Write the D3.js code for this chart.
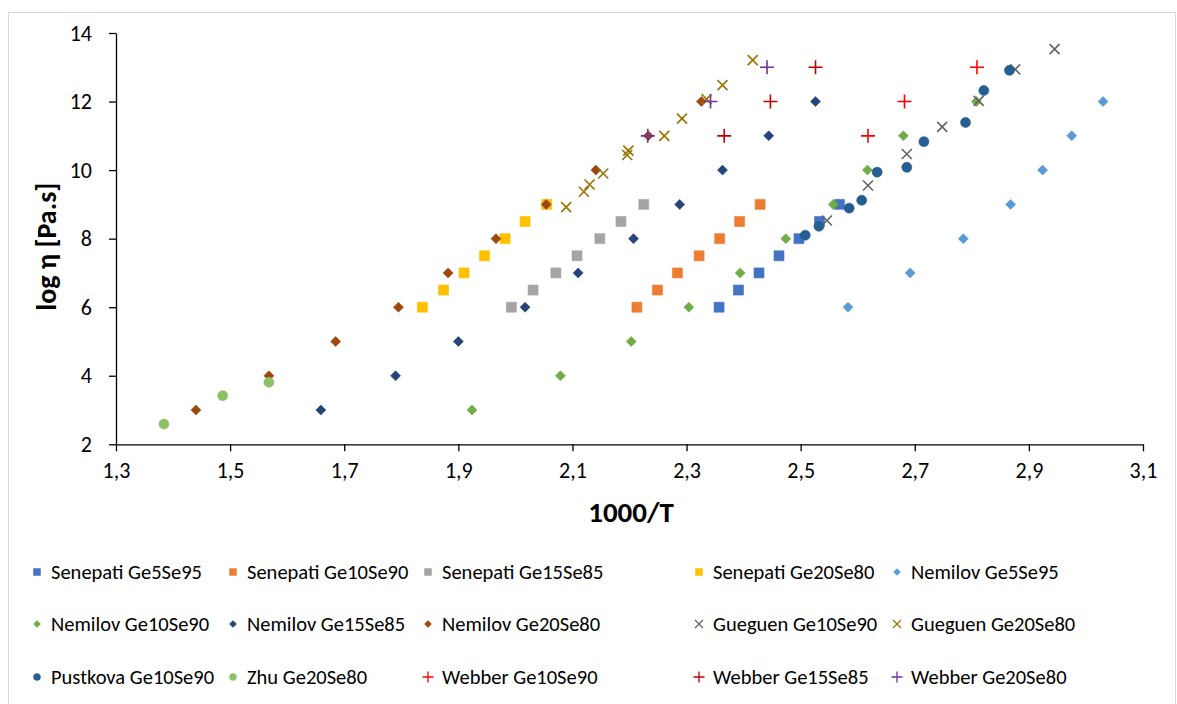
<!DOCTYPE html>
<html>
<head>
<meta charset="utf-8">
<script src="https://cdn.jsdelivr.net/npm/d3@7"></script>
<style>
  body { margin: 0; background: #fff; }
  svg { display: block; font-family: Carlito, Calibri, Lato, sans-serif; }
</style>
</head>
<body>
<svg id="chart" width="1177" height="704"></svg>
<script>
// log viscosity vs reciprocal temperature for Ge-Se melts, by source
const xTicks = [1.3, 1.5, 1.7, 1.9, 2.1, 2.3, 2.5, 2.7, 2.9, 3.1];
const yTicks = [2, 4, 6, 8, 10, 12, 14];

const senepatiGe5Se95X = [2.357, 2.391, 2.427, 2.462, 2.497, 2.533, 2.568];
const senepatiGe5Se95Y = [6, 6.5, 7, 7.5, 8, 8.5, 9];
const senepatiGe10Se90X = [2.213, 2.249, 2.284, 2.322, 2.358, 2.393, 2.429];
const senepatiGe10Se90Y = [6, 6.5, 7, 7.5, 8, 8.5, 9];
const senepatiGe15Se85X = [1.993, 2.031, 2.071, 2.108, 2.148, 2.185, 2.225];
const senepatiGe15Se85Y = [6, 6.5, 7, 7.5, 8, 8.5, 9];
const senepatiGe20Se80X = [1.837, 1.874, 1.910, 1.946, 1.982, 2.017, 2.055];
const senepatiGe20Se80Y = [6, 6.5, 7, 7.5, 8, 8.5, 9];

const nemilovGe5Se95X = [2.583, 2.692, 2.785, 2.868, 2.924, 2.975, 3.030];
const nemilovGe5Se95Y = [6, 7, 8, 9, 10, 11, 12];
const nemilovGe10Se90X = [1.924, 2.079, 2.203, 2.304, 2.394, 2.474, 2.557, 2.617, 2.680, 2.808];
const nemilovGe10Se90Y = [3, 4, 5, 6, 7, 8, 9, 10, 11, 12];
const nemilovGe15Se85X = [1.659, 1.790, 1.900, 2.017, 2.110, 2.207, 2.288, 2.363, 2.444, 2.526];
const nemilovGe15Se85Y = [3, 4, 5, 6, 7, 8, 9, 10, 11, 12];
const nemilovGe20Se80X = [1.440, 1.568, 1.685, 1.795, 1.882, 1.966, 2.054, 2.141, 2.233, 2.326];
const nemilovGe20Se80Y = [3, 4, 5, 6, 7, 8, 9, 10, 11, 12];

const gueguenGe10Se90X = [2.546, 2.618, 2.686, 2.748, 2.812, 2.876, 2.945];
const gueguenGe10Se90Y = [8.53, 9.55, 10.47, 11.26, 12.02, 12.94, 13.53];
const gueguenGe20Se80X = [2.089, 2.120, 2.130, 2.154, 2.196, 2.198, 2.261, 2.292, 2.335, 2.363, 2.416];
const gueguenGe20Se80Y = [8.92, 9.37, 9.58, 9.90, 10.44, 10.57, 11.0, 11.50, 12.07, 12.48, 13.21];

const pustkovaGe10Se90X = [2.508, 2.532, 2.585, 2.607, 2.634, 2.686, 2.716, 2.789, 2.821, 2.866];
const pustkovaGe10Se90Y = [8.10, 8.36, 8.89, 9.12, 9.94, 10.08, 10.83, 11.39, 12.32, 12.91];
const zhuGe20Se80X = [1.384, 1.487, 1.568];
const zhuGe20Se80Y = [2.59, 3.42, 3.81];

const webberGe10Se90X = [2.618, 2.682, 2.809];
const webberGe10Se90Y = [11, 12, 13];
const webberGe15Se85X = [2.366, 2.447, 2.526];
const webberGe15Se85Y = [11, 12, 13];
const webberGe20Se80X = [2.232, 2.342, 2.441];
const webberGe20Se80Y = [11, 12, 13];

const seriesNames = [
  "Senepati Ge5Se95", "Senepati Ge10Se90", "Senepati Ge15Se85", "Senepati Ge20Se80", "Nemilov Ge5Se95",
  "Nemilov Ge10Se90", "Nemilov Ge15Se85", "Nemilov Ge20Se80", "Gueguen Ge10Se90", "Gueguen Ge20Se80",
  "Pustkova Ge10Se90", "Zhu Ge20Se80", "Webber Ge10Se90", "Webber Ge15Se85", "Webber Ge20Se80"
];
const seriesX = [senepatiGe5Se95X, senepatiGe10Se90X, senepatiGe15Se85X, senepatiGe20Se80X, nemilovGe5Se95X,
  nemilovGe10Se90X, nemilovGe15Se85X, nemilovGe20Se80X, gueguenGe10Se90X, gueguenGe20Se80X,
  pustkovaGe10Se90X, zhuGe20Se80X, webberGe10Se90X, webberGe15Se85X, webberGe20Se80X];
const seriesY = [senepatiGe5Se95Y, senepatiGe10Se90Y, senepatiGe15Se85Y, senepatiGe20Se80Y, nemilovGe5Se95Y,
  nemilovGe10Se90Y, nemilovGe15Se85Y, nemilovGe20Se80Y, gueguenGe10Se90Y, gueguenGe20Se80Y,
  pustkovaGe10Se90Y, zhuGe20Se80Y, webberGe10Se90Y, webberGe15Se85Y, webberGe20Se80Y];
const seriesColors = ["#4472C4", "#ED7D31", "#A5A5A5", "#FFC000", "#5B9BD5",
  "#70AD47", "#264478", "#9E480E", "#636363", "#997300",
  "#255E91", "#8CC168", "#FF0000", "#C00000", "#7030A0"];
const seriesShapes = ["square", "square", "square", "square", "diamond",
  "diamond", "diamond", "diamond", "cross", "cross",
  "circle", "circle", "plus", "plus", "plus"];

const series = seriesNames.map((name, i) => ({
  name, color: seriesColors[i], shape: seriesShapes[i],
  points: seriesX[i].map((x, j) => ({ x, y: seriesY[i][j] }))
}));

const svg = d3.select("#chart");
const W = 1177, H = 704;
const plot = { left: 116, right: 1143, top: 33, bottom: 444.3 };
const FONT = "Carlito, Calibri, Lato, sans-serif";

// chart frame
svg.append("rect").attr("x", 8.5).attr("y", 12.5).attr("width", W - 10).attr("height", H)
  .attr("fill", "#fff").attr("stroke", "#D9D9D9").attr("stroke-width", 1);

const x = d3.scaleLinear().domain([1.3, 3.1]).range([plot.left, plot.right]);
const y = d3.scaleLinear().domain([2, 14]).range([plot.bottom, plot.top]);

const fmt = d => d3.format(".1f")(d).replace(".", ",");

const xAxis = svg.append("g").attr("transform", `translate(0,${plot.bottom})`)
  .call(d3.axisBottom(x).tickValues(xTicks).tickFormat(fmt).tickSize(7).tickSizeOuter(0).tickPadding(11));
const yAxis = svg.append("g").attr("transform", `translate(${plot.left},0)`)
  .call(d3.axisLeft(y).tickValues(yTicks).tickFormat(d3.format("d")).tickSize(7).tickSizeOuter(0).tickPadding(17));
[xAxis, yAxis].forEach(g => {
  g.attr("font-family", FONT).attr("font-size", 22);
  g.select(".domain").attr("stroke", "#000").attr("stroke-width", 1.3);
  g.selectAll(".tick line").attr("stroke", "#000").attr("stroke-width", 1.3);
  g.selectAll(".tick text").attr("fill", "#000");
});

// axis titles
svg.append("text").attr("x", 631).attr("y", 522)
  .attr("text-anchor", "middle").attr("font-family", FONT).attr("font-size", 29).attr("font-weight", "bold")
  .text("1000/T");
svg.append("text").attr("transform", `translate(56,${(plot.top + plot.bottom) / 2 + 8}) rotate(-90)`)
  .attr("text-anchor", "middle").attr("font-family", FONT).attr("font-size", 28).attr("font-weight", "bold")
  .text("log η [Pa.s]");

// marker path generator, size in px
function markerPath(shape, s) {
  const h = s / 2;
  switch (shape) {
    case "square": return `M${-h},${-h}H${h}V${h}H${-h}Z`;
    case "diamond": return `M0,${-h}L${h},0L0,${h}L${-h},0Z`;
    case "circle": return `M${h},0A${h},${h} 0 1,1 ${-h},0A${h},${h} 0 1,1 ${h},0Z`;
    case "cross": return `M${-h},${-h}L${h},${h}M${-h},${h}L${h},${-h}`;
    case "plus": return `M${-h},0H${h}M0,${-h}V${h}`;
  }
}
const plotSize = { square: 10, diamond: 10, circle: 10, cross: 10, plus: 14 };
function styleMarker(sel, d) {
  const open = d.shape === "cross" || d.shape === "plus";
  sel.attr("fill", open ? "none" : d.color)
    .attr("stroke", d.color)
    .attr("stroke-width", open ? 1.6 : 0.6);
}

const groups = svg.append("g").selectAll("g").data(series).join("g");
groups.each(function (d) {
  d3.select(this).selectAll("path").data(d.points).join("path")
    .attr("transform", p => `translate(${x(p.x)},${y(p.y)})`)
    .attr("d", markerPath(d.shape, plotSize[d.shape]))
    .call(styleMarker, d);
});

// legend: 5 columns, 3 rows
const colX = [37, 233, 428, 699, 897];
const rowY = [572, 624, 677];
const legendSize = { square: 7, diamond: 7, circle: 7, cross: 8, plus: 11 };
const leg = svg.append("g").selectAll("g").data(series).join("g")
  .attr("transform", (d, i) => `translate(${colX[i % 5]},${rowY[Math.floor(i / 5)]})`);
leg.append("path").attr("d", d => markerPath(d.shape, legendSize[d.shape]))
  .each(function (d) { d3.select(this).call(styleMarker, d).attr("stroke-width", (d.shape === "cross" || d.shape === "plus") ? 1.3 : 0.5); });
leg.append("text").attr("x", 14).attr("dy", "0.35em").attr("font-family", FONT).attr("font-size", 20.5).attr("fill", "#000")
  .text(d => d.name);
</script>
</body>
</html>
